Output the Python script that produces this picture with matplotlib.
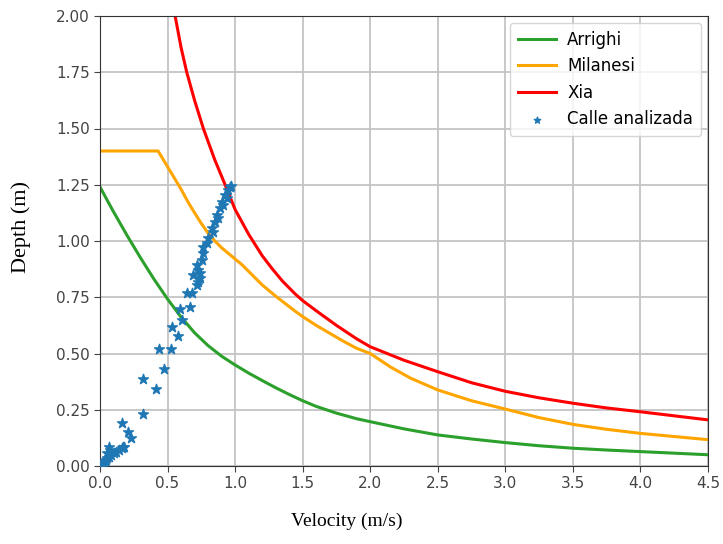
import matplotlib
matplotlib.use("Agg")
import matplotlib.pyplot as plt

# Arrighi curve
arr_v = [0.0, 0.1, 0.2, 0.3, 0.4, 0.5, 0.6, 0.7, 0.8, 0.9, 1.0, 1.1, 1.2, 1.3, 1.4, 1.5,
         1.6, 1.75, 1.9, 2.0, 2.25, 2.5, 2.75, 3.0, 3.25, 3.5, 3.75, 4.0, 4.25, 4.5]
arr_h = [1.24, 1.13, 1.025, 0.925, 0.83, 0.742, 0.662, 0.592, 0.535, 0.488, 0.449, 0.413,
         0.38, 0.348, 0.318, 0.29, 0.265, 0.235, 0.21, 0.197, 0.165, 0.138, 0.12, 0.104,
         0.09, 0.079, 0.071, 0.064, 0.057, 0.050]

# Milanesi curve
mil_v = [0.0, 0.43, 0.5, 0.55, 0.6, 0.65, 0.7, 0.75, 0.8, 0.85, 0.9, 0.95, 1.0, 1.05, 1.1,
         1.2, 1.3, 1.44, 1.5, 1.6, 1.7, 1.8, 1.9, 2.0, 2.15, 2.3, 2.5, 2.75, 3.0, 3.25,
         3.5, 3.75, 4.0, 4.25, 4.5]
mil_h = [1.40, 1.40, 1.33, 1.28, 1.23, 1.175, 1.125, 1.078, 1.035, 1.0, 0.97, 0.945, 0.92,
         0.895, 0.865, 0.805, 0.755, 0.69, 0.664, 0.625, 0.59, 0.555, 0.523, 0.50, 0.44,
         0.39, 0.338, 0.29, 0.253, 0.215, 0.185, 0.163, 0.145, 0.131, 0.117]

# Xia curve
xia_v = [0.556, 0.6, 0.642, 0.7, 0.765, 0.85, 0.926, 1.0, 1.1, 1.2, 1.27, 1.35, 1.444,
         1.5, 1.6, 1.75, 1.9, 2.0, 2.25, 2.5, 2.75, 3.0, 3.25, 3.5, 3.75, 4.0, 4.25, 4.5]
xia_h = [2.0, 1.86, 1.75, 1.625, 1.5, 1.36, 1.25, 1.14, 1.03, 0.935, 0.88, 0.822, 0.765,
         0.735, 0.69, 0.625, 0.565, 0.53, 0.47, 0.419, 0.37, 0.332, 0.303, 0.279, 0.258,
         0.241, 0.223, 0.205]

# Calle analizada (scatter)
calle_v = [0.005, 0.015, 0.025, 0.035, 0.045, 0.055, 0.07, 0.085, 0.10, 0.12, 0.14, 0.16,
           0.05, 0.075, 0.17, 0.069, 0.18, 0.16, 0.21, 0.23, 0.316, 0.316, 0.415, 0.476,
           0.44, 0.526, 0.575, 0.531, 0.605, 0.593, 0.667, 0.642, 0.679, 0.716, 0.741,
           0.691, 0.728, 0.716, 0.753, 0.765, 0.765, 0.802, 0.827, 0.852, 0.864, 0.889,
           0.901, 0.926, 0.951, 0.963, 0.97, 0.728, 0.94, 0.91, 0.875, 0.74, 0.79, 0.84]
calle_h = [0.004, 0.01, 0.016, 0.022, 0.028, 0.034, 0.042, 0.05, 0.057, 0.063, 0.07, 0.078,
           0.06, 0.07, 0.086, 0.083, 0.083, 0.19, 0.15, 0.125, 0.231, 0.385, 0.341, 0.43,
           0.52, 0.52, 0.578, 0.62, 0.649, 0.70, 0.708, 0.767, 0.767, 0.804, 0.834,
           0.849, 0.871, 0.893, 0.916, 0.945, 0.975, 1.012, 1.056, 1.086, 1.116, 1.145,
           1.175, 1.204, 1.227, 1.241, 1.245, 0.819, 1.19, 1.16, 1.10, 0.86, 0.99, 1.04]

xticks = [0.0, 0.5, 1.0, 1.5, 2.0, 2.5, 3.0, 3.5, 4.0, 4.5]
yticks = [0.0, 0.25, 0.5, 0.75, 1.0, 1.25, 1.5, 1.75, 2.0]

fig = plt.figure(figsize=(7.23, 5.44), dpi=100)
ax = fig.add_axes([100 / 723, 1 - 466 / 544, 608 / 723, 450 / 544])

ax.plot(arr_v, arr_h, color="#2ca02c", lw=2.2, label="Arrighi")
ax.plot(mil_v, mil_h, color="#FFA500", lw=2.2, label="Milanesi")
ax.plot(xia_v, xia_h, color="#FF0000", lw=2.2, label="Xia")
ax.scatter(calle_v, calle_h, marker="*", s=55, color="#1f77b4", label="Calle analizada",
           zorder=3)

ax.set_xlim(0, 4.5)
ax.set_ylim(0, 2.0)
ax.set_xticks(xticks)
ax.set_yticks(yticks)
ax.set_xticklabels([f"{t:.1f}" for t in xticks])
ax.set_yticklabels([f"{t:.2f}" for t in yticks])
ax.tick_params(labelsize=11, colors="#444444", length=4)
for s in ax.spines.values():
    s.set_color("#333333")
ax.grid(True, color="#c4c4c4", lw=1.3)
ax.set_axisbelow(True)

ax.set_xlabel("Velocity (m/s)", family="Liberation Serif", fontsize=14)
ax.set_ylabel("Depth (m)", family="Liberation Serif", fontsize=16)
ax.xaxis.set_label_coords((347 - 100) / 608, (466 - 513) / 450)
ax.yaxis.set_label_coords((31 - 100) / 608, (466 - 227) / 450)

ax.legend(loc="upper right", fontsize=12, handlelength=2.3, borderpad=0.5,
          labelspacing=0.5, handletextpad=0.65, markerscale=0.65,
          bbox_to_anchor=(1.0, 1.0), borderaxespad=0.4)

fig.savefig("out.png", dpi=100)
